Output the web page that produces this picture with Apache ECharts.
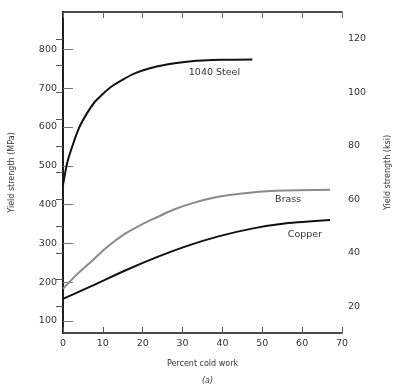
<!DOCTYPE html>
<html><head><meta charset="utf-8">
<script src="https://cdn.jsdelivr.net/npm/echarts@6/dist/echarts.min.js"></script>
<style>html,body{margin:0;padding:0;background:#fff}#c{width:400px;height:386px}</style>
</head><body><div id="c"></div>
<script>
const steelX = [0, 1, 2, 4, 6, 8, 10, 12, 15, 18, 22, 26, 30, 35, 40, 47.5];
const steelY = [450, 505, 540, 597, 635, 665, 685, 703, 722, 738, 752, 761, 767, 771, 773, 774];
const brassX = [0, 3.5, 7.4, 11, 15.6, 20, 23.7, 28, 33, 39, 47.4, 55.6, 67];
const brassY = [183, 220, 256, 290, 325, 350, 368, 388, 405, 420, 431, 436, 438];
const copperX = [0, 7.4, 15.6, 23.7, 31, 39, 47.4, 55.6, 67];
const copperY = [157, 191, 230, 265, 293, 318, 338, 351, 360];
const mpaTicks = [100, 200, 300, 400, 500, 600, 700, 800];
const ksiTicks = [20, 40, 60, 80, 100, 120];
const ksiAllTicks = [20, 30, 40, 50, 60, 70, 80, 90, 100, 110, 120];
const labelSteel = [38, 740, '1040 Steel'];
const labelBrass = [56.5, 412, 'Brass'];
const labelCopper = [60.7, 324, 'Copper'];
const KSI = 6.894757;
const ksiMin = 10, ksiMax = 130;

const zip = (xs, ys) => xs.map((x, i) => [x, ys[i]]);
const font = 'DejaVu Sans';
const txt = '#333';
function lbl(p) {
  return { coord: [p[0], p[1]], symbolSize: 0,
    label: { show: true, formatter: p[2], position: 'inside', color: txt, fontSize: 9.5, fontFamily: font } };
}
const chart = echarts.init(document.getElementById('c'));
chart.setOption({
  animation: false,
  backgroundColor: '#fff',
  grid: { left: 63, right: 51, top: 12, bottom: 53 },
  title: { text: '(a)', left: 197, top: 372, textStyle: { fontSize: 8, fontStyle: 'italic', fontWeight: 'normal', color: txt, fontFamily: font } },
  xAxis: [
    { type: 'value', min: 0, max: 70, interval: 10, position: 'bottom',
      name: 'Percent cold work', nameLocation: 'middle', nameGap: 27,
      nameTextStyle: { fontSize: 8, color: txt, fontFamily: font },
      axisLine: { lineStyle: { color: '#111', width: 1.5 } },
      axisTick: { inside: true, length: 6, lineStyle: { color: '#555' } },
      axisLabel: { fontSize: 9.5, color: txt, fontFamily: font, margin: 6 },
      splitLine: { show: false } },
    { type: 'value', min: 0, max: 70, interval: 10, position: 'top',
      axisLine: { lineStyle: { color: '#111', width: 1.5 } },
      axisTick: { inside: true, length: 6, lineStyle: { color: '#666' } },
      axisLabel: { show: false }, splitLine: { show: false } }
  ],
  yAxis: [
    { type: 'value', min: ksiMin * KSI, max: ksiMax * KSI, position: 'left',
      name: 'Yield strength (MPa)', nameLocation: 'middle', nameRotate: 90, nameGap: 47,
      nameTextStyle: { fontSize: 8, color: txt, fontFamily: font },
      axisLine: { show: true, lineStyle: { color: '#111', width: 1.5 } },
      axisTick: { show: true, inside: true, length: 10, customValues: mpaTicks, lineStyle: { color: '#777' } },
      axisLabel: { customValues: mpaTicks, fontSize: 9.5, color: txt, fontFamily: font, margin: 6 },
      splitLine: { show: false } },
    { type: 'value', min: ksiMin, max: ksiMax, position: 'right',
      name: 'Yield strength (ksi)', nameLocation: 'middle', nameRotate: 90, nameGap: 42,
      nameTextStyle: { fontSize: 8, color: txt, fontFamily: font },
      axisLine: { show: true, lineStyle: { color: '#111', width: 1.5 } },
      axisTick: { show: true, inside: true, length: 7, customValues: ksiAllTicks, lineStyle: { color: '#555' } },
      axisLabel: { customValues: ksiTicks, fontSize: 9.5, color: txt, fontFamily: font, margin: 6 },
      splitLine: { show: false } }
  ],
  series: [
    { type: 'line', name: '1040 Steel', data: zip(steelX, steelY), showSymbol: false,
      smooth: 0.3, lineStyle: { color: '#111', width: 2 },
      markPoint: { silent: true, data: [lbl(labelSteel)] } },
    { type: 'line', name: 'Brass', data: zip(brassX, brassY), showSymbol: false,
      smooth: 0.3, lineStyle: { color: '#8a8a8a', width: 2 },
      markPoint: { silent: true, data: [lbl(labelBrass)] } },
    { type: 'line', name: 'Copper', data: zip(copperX, copperY), showSymbol: false,
      smooth: 0.3, lineStyle: { color: '#111', width: 2 },
      markPoint: { silent: true, data: [lbl(labelCopper)] } }
  ]
});
</script></body></html>
